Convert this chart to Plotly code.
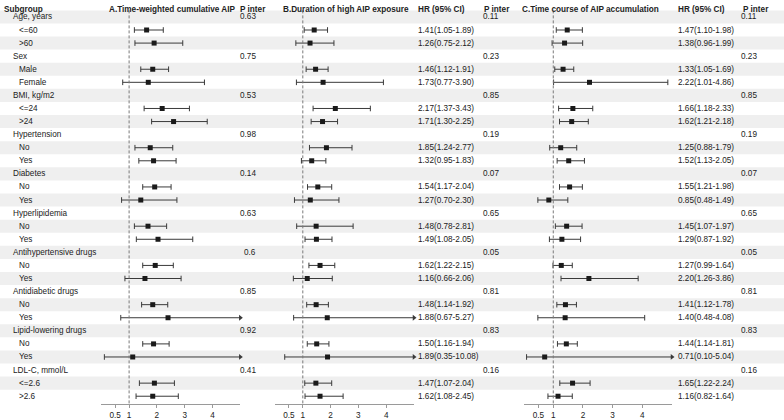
import plotly.graph_objects as go

# ---------------- data ----------------
labels = ["Age, years", "<=60", ">60", "Sex", "Male", "Female", "BMI, kg/m2", "<=24", ">24",
          "Hypertension", "No", "Yes", "Diabetes", "No", "Yes", "Hyperlipidemia", "No", "Yes",
          "Antihypertensive drugs", "No", "Yes", "Antidiabetic drugs", "No", "Yes",
          "Lipid-lowering drugs", "No", "Yes", "LDL-C, mmol/L", "<=2.6", ">2.6"]
is_group = [1, 0, 0, 1, 0, 0, 1, 0, 0, 1, 0, 0, 1, 0, 0, 1, 0, 0,
            1, 0, 0, 1, 0, 0, 1, 0, 0, 1, 0, 0]

# Panel A
a_hr = [1.63, 1.90, 1.85, 1.69, 2.19, 2.60, 1.76, 1.88, 1.92, 1.42,
        1.68, 2.04, 1.94, 1.57, 1.85, 2.40, 1.88, 1.13, 1.91, 1.85]
a_lo = [1.19, 1.21, 1.42, 0.77, 1.54, 1.81, 1.21, 1.35, 1.49, 0.73,
        1.19, 1.26, 1.49, 0.85, 1.45, 0.70, 1.49, 0.11, 1.37, 1.25]
a_hi = [2.23, 2.93, 2.42, 3.71, 3.17, 3.81, 2.57, 2.69, 2.51, 2.72,
        2.35, 3.29, 2.59, 2.87, 2.39, 8.00, 2.44, 11.00, 2.63, 2.77]
a_p = ["0.63", "0.75", "0.53", "0.98", "0.14", "0.63", "0.6", "0.85", "0.92", "0.41"]

# Panel B
b_hr = [1.41, 1.26, 1.46, 1.73, 2.17, 1.71, 1.85, 1.32, 1.54, 1.27,
        1.48, 1.49, 1.62, 1.16, 1.48, 1.88, 1.50, 1.89, 1.47, 1.62]
b_lo = [1.05, 0.75, 1.12, 0.77, 1.37, 1.30, 1.24, 0.95, 1.17, 0.70,
        0.78, 1.08, 1.22, 0.66, 1.14, 0.67, 1.16, 0.35, 1.07, 1.08]
b_hi = [1.89, 2.12, 1.91, 3.90, 3.43, 2.25, 2.77, 1.83, 2.04, 2.30,
        2.81, 2.05, 2.15, 2.06, 1.92, 5.27, 1.94, 10.08, 2.04, 2.45]
b_p = ["0.11", "0.23", "0.85", "0.19", "0.07", "0.65", "0.05", "0.81", "0.83", "0.16"]

# Panel C
c_hr = [1.47, 1.38, 1.33, 2.22, 1.66, 1.62, 1.25, 1.52, 1.55, 0.85,
        1.45, 1.29, 1.27, 2.20, 1.41, 1.40, 1.44, 0.71, 1.65, 1.16]
c_lo = [1.10, 0.96, 1.05, 1.01, 1.18, 1.21, 0.88, 1.13, 1.21, 0.48,
        1.07, 0.87, 0.99, 1.26, 1.12, 0.48, 1.14, 0.10, 1.22, 0.82]
c_hi = [1.98, 1.99, 1.69, 4.86, 2.33, 2.18, 1.79, 2.05, 1.98, 1.49,
        1.97, 1.92, 1.64, 3.86, 1.78, 4.08, 1.81, 5.04, 2.24, 1.64]
c_p = ["0.11", "0.23", "0.85", "0.19", "0.07", "0.65", "0.05", "0.81", "0.83", "0.16"]

tick_vals = [0.5, 1, 2, 3, 4]
tick_text = ["0.5", "1", "2", "3", "4"]
x_max = 5.0

titles = ["A.Time-weighted cumulative AIP", "B.Duration of high AIP exposure",
          "C.Time course of AIP accumulation"]

# ---------------- layout constants ----------------
W, H = 784, 420
FONT = "Liberation Sans, Arial, sans-serif"
TXT = "#222222"
FS = 8.2
STRIPE = "#efefef"
LINE = "#3a3a3a"

def px(x):
    return x / W

n = len(labels)
group_rows = [i for i in range(n) if is_group[i]]
sub_rows = [i for i in range(n) if not is_group[i]]
header_y = -0.55

fig = go.Figure()

panels = [
    dict(ax="x", hr=a_hr, lo=a_lo, hi=a_hi, p=a_p, dom=(101.3, 240.3), show_hr=False,
         title_x=108, hr_x=None, p_x=257, p_head_x=239),
    dict(ax="x2", hr=b_hr, lo=b_lo, hi=b_hi, p=b_p, dom=(275.0, 414.0), show_hr=True,
         title_x=282, hr_x=417, p_x=500, p_head_x=483),
    dict(ax="x3", hr=c_hr, lo=c_lo, hi=c_hi, p=c_p, dom=(523.6, 672.0), show_hr=True,
         title_x=521, hr_x=677, p_x=758, p_head_x=742),
]

shapes = []
annotations = []

# stripes
for i in range(0, n, 2):
    shapes.append(dict(type="rect", xref="paper", yref="y", x0=0, x1=1, y0=i - 0.5, y1=i + 0.5,
                       fillcolor=STRIPE, line=dict(width=0), layer="below"))

def ann(text, xpix, y, anchor="left", bold=False):
    annotations.append(dict(text=f"<b>{text}</b>" if bold else text, x=px(xpix), xref="paper",
                            y=y, yref="y", xanchor=anchor, yanchor="middle", showarrow=False,
                            borderpad=0, font=dict(family=FONT, size=FS, color=TXT)))

# subgroup column
ann("Subgroup", 3, header_y, bold=True)
for i in range(n):
    ann(labels[i], 12 if is_group[i] else 18, i)

for k, p in enumerate(panels):
    axname = p["ax"]
    # CI lines
    lx, ly, capx, capy, arx, ary = [], [], [], [], [], []
    for j, r in enumerate(sub_rows):
        lo, hi = p["lo"][j], p["hi"][j]
        end = min(hi, x_max)
        lx += [lo, end, None]
        ly += [r, r, None]
        capx.append(lo); capy.append(r)
        if hi > x_max:
            arx.append(end); ary.append(r)
        else:
            capx.append(hi); capy.append(r)
    fig.add_trace(go.Scatter(x=lx, y=ly, mode="lines", line=dict(color=LINE, width=1),
                             xaxis=axname, yaxis="y", hoverinfo="skip", showlegend=False,
                             cliponaxis=False))
    fig.add_trace(go.Scatter(x=capx, y=capy, mode="markers",
                             marker=dict(symbol="line-ns", size=4, line=dict(color=LINE, width=1)),
                             xaxis=axname, yaxis="y", hoverinfo="skip", showlegend=False,
                             cliponaxis=False))
    if arx:
        fig.add_trace(go.Scatter(x=arx, y=ary, mode="markers",
                                 marker=dict(symbol="triangle-right", size=5, color=LINE),
                                 xaxis=axname, yaxis="y", hoverinfo="skip", showlegend=False,
                                 cliponaxis=False))
    fig.add_trace(go.Scatter(x=p["hr"], y=sub_rows, mode="markers",
                             marker=dict(symbol="square", size=5, color="#1a1a1a"),
                             xaxis=axname, yaxis="y", showlegend=False, cliponaxis=False))
    # reference line at 1
    shapes.append(dict(type="line", xref=axname, yref="y", x0=1, x1=1, y0=-0.5, y1=n - 0.4,
                       line=dict(color="#7a7a7a", width=1, dash="3px,2px")))
    # texts
    ann(titles[k], p["title_x"], header_y, bold=True)
    ann("P inter", p["p_head_x"], header_y, bold=True)
    for g, r in enumerate(group_rows):
        ann(p["p"][g], p["p_x"], r, anchor="right")
    if p["show_hr"]:
        ann("HR (95% CI)", p["hr_x"], header_y, bold=True)
        for j, r in enumerate(sub_rows):
            ann(f"{p['hr'][j]:.2f}({p['lo'][j]:.2f}-{p['hi'][j]:.2f})", p["hr_x"], r)

axis_common = dict(range=[0, x_max], tickvals=tick_vals, ticktext=tick_text, showgrid=False,
                   zeroline=False, showline=True, linecolor="#9a9a9a", linewidth=1,
                   ticks="outside", ticklen=3, tickcolor="#9a9a9a", tickwidth=1,
                   tickfont=dict(family=FONT, size=FS, color=TXT), anchor="y", fixedrange=True)

fig.update_layout(
    width=W, height=H, margin=dict(l=0, r=0, t=0, b=0),
    paper_bgcolor="white", plot_bgcolor="rgba(0,0,0,0)",
    xaxis=dict(domain=[px(panels[0]["dom"][0]), px(panels[0]["dom"][1])], **axis_common),
    xaxis2=dict(domain=[px(panels[1]["dom"][0]), px(panels[1]["dom"][1])], **axis_common),
    xaxis3=dict(domain=[px(panels[2]["dom"][0]), px(panels[2]["dom"][1])], **axis_common),
    yaxis=dict(domain=[1 - 406 / H, 1], range=[n - 0.4, -1.294], showgrid=False, zeroline=False,
               showline=False, showticklabels=False, ticks="", fixedrange=True),
    shapes=shapes, annotations=annotations, showlegend=False,
)

fig.write_html("out.html", config={"displayModeBar": False},
               post_script="document.body.style.margin='0px';document.body.style.padding='0px';")
